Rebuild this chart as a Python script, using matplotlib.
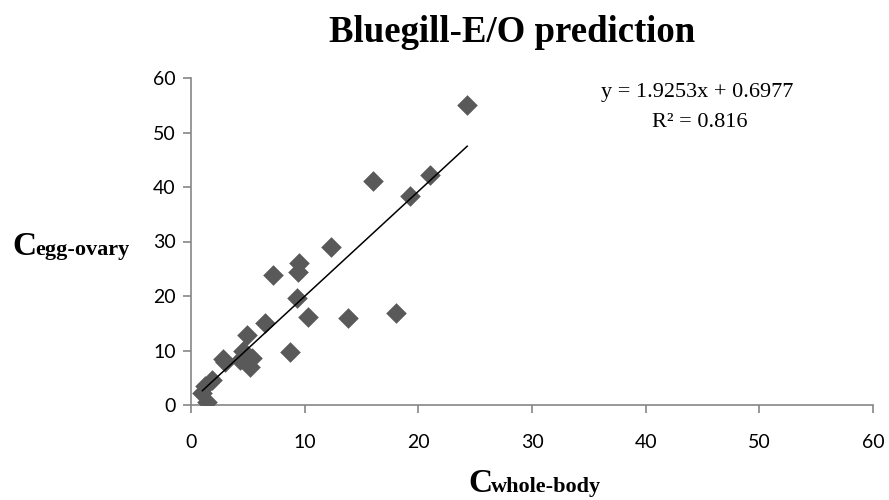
import matplotlib
matplotlib.use("Agg")
import matplotlib.pyplot as plt
import numpy as np

# Data
x_whole_body = [24.3, 21.0, 19.3, 16.0, 12.3, 9.5, 9.4, 7.2, 9.3, 10.3, 13.8, 18.0,
                8.7, 6.5, 4.9, 4.6, 5.4, 5.2, 4.3, 2.8, 1.85, 1.0, 1.4, 3.0, 1.2]
y_egg_ovary = [55.0, 42.2, 38.4, 41.1, 29.0, 26.0, 24.4, 23.9, 19.6, 16.2, 16.0, 16.8,
               9.7, 15.1, 12.8, 10.0, 8.6, 7.0, 8.3, 8.4, 4.6, 2.2, 0.5, 7.8, 3.5]
slope = 1.9253
intercept = 0.6977
r_squared = 0.816
x_ticks = [0, 10, 20, 30, 40, 50, 60]
y_ticks = [0, 10, 20, 30, 40, 50, 60]
title = "Bluegill-E/O prediction"

fig = plt.figure(figsize=(8.89, 5.0), dpi=100)
ax = fig.add_axes([191/889, 1-405/500, (873-191)/889, (405-78)/500])

ax.scatter(x_whole_body, y_egg_ovary, marker='D', s=10.5**2, color='#595959',
           linewidths=0, zorder=3)
xl = np.array([min(x_whole_body), max(x_whole_body)])
ax.plot(xl, slope*xl + intercept, color='black', lw=1.1, zorder=4)

ax.set_xlim(0, 60)
ax.set_ylim(0, 60)
ax.set_xticks(x_ticks)
ax.set_yticks(y_ticks)
gray = '#868686'
for s in ['top', 'right']:
    ax.spines[s].set_visible(False)
for s in ['left', 'bottom']:
    ax.spines[s].set_color(gray)
    ax.spines[s].set_linewidth(1.2)
ax.tick_params(axis='both', direction='out', length=6, width=1.2, color=gray,
               labelsize=14)
ax.tick_params(axis='x', pad=15)
ax.tick_params(axis='y', pad=5)
for lab in ax.get_xticklabels() + ax.get_yticklabels():
    lab.set_fontfamily('Lato')
    lab.set_color('#000000')

serif = 'Liberation Serif'
fig.text(512/889, 1-42/500, title, ha='center', va='baseline', fontsize=26.5,
         fontweight='bold', family=serif)

# Equation
fig.text(697/889, 1-97/500, f"y = {slope}x + {intercept}", ha='center', va='baseline',
         fontsize=16, family=serif)
fig.text(700/889, 1-127/500, f"R² = {r_squared}", ha='center', va='baseline',
         fontsize=16, family=serif)

# Axis labels
fig.text(12/889, 1-255/500, "C", ha='left', va='baseline', fontsize=24,
         fontweight='bold', family=serif)
fig.text(35/889, 1-255/500, "egg-ovary", ha='left', va='baseline', fontsize=16,
         fontweight='bold', family=serif)
fig.text(468/889, 1-492/500, "C", ha='left', va='baseline', fontsize=24,
         fontweight='bold', family=serif)
fig.text(491/889, 1-492/500, "whole-body", ha='left', va='baseline', fontsize=16,
         fontweight='bold', family=serif)

fig.savefig("out.png", dpi=100)
